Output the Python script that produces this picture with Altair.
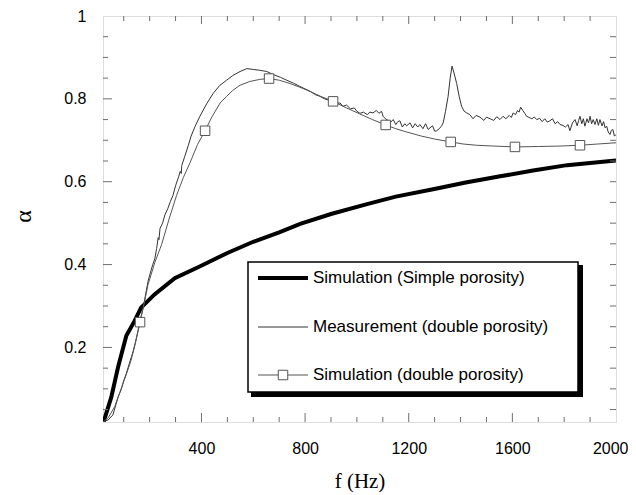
import altair as alt
import pandas as pd

# ---------------- data ----------------
meas_f = [20, 40, 58, 70, 78, 90, 100, 110, 120, 130, 137, 146, 155, 165, 175, 185, 194, 205, 212, 220,
          227, 233, 236, 240, 250, 259, 270, 280, 290, 300, 312, 318, 322, 324, 335, 349, 360, 375, 394, 420,
          445, 470, 497, 520, 549, 575, 600, 625, 652, 680, 705, 729, 755, 780, 800, 820, 840, 857, 875, 890,
          905, 920, 935, 946, 960, 975, 990, 1000, 1012, 1025, 1040, 1050, 1062, 1075, 1085, 1095, 1101, 1110,
          1120, 1128, 1140, 1150, 1158, 1166, 1175, 1185, 1192, 1205, 1215, 1225, 1235, 1243, 1255, 1265, 1275,
          1282, 1292, 1300, 1308, 1318, 1327, 1333, 1342, 1352, 1360, 1367, 1375, 1385, 1395, 1404, 1414, 1424,
          1436, 1448, 1460, 1475, 1490, 1500, 1514, 1528, 1540, 1552, 1564, 1575, 1588, 1596, 1603, 1612, 1620,
          1626, 1632, 1640, 1648, 1655, 1665, 1675, 1685, 1694, 1705, 1715, 1725, 1735, 1745, 1755, 1765, 1775,
          1784, 1795, 1805, 1815, 1822, 1832, 1842, 1850, 1856, 1861, 1868, 1874, 1880, 1888, 1894, 1900, 1906,
          1912, 1919, 1926, 1932, 1938, 1946, 1952, 1958, 1964, 1970, 1977, 1982, 1988, 1994, 2000]
meas_a = [0.02, 0.025, 0.037, 0.062, 0.08, 0.098, 0.12, 0.137, 0.158, 0.178, 0.192, 0.215, 0.24, 0.27, 0.295,
          0.33, 0.36, 0.385, 0.40, 0.414, 0.439, 0.465, 0.46, 0.487, 0.50, 0.52, 0.535, 0.552, 0.567, 0.59,
          0.612, 0.625, 0.62, 0.639, 0.66, 0.687, 0.71, 0.733, 0.758, 0.788, 0.813, 0.832, 0.845, 0.856, 0.866,
          0.873, 0.871, 0.869, 0.866, 0.858, 0.852, 0.845, 0.838, 0.83, 0.824, 0.818, 0.81, 0.806, 0.80, 0.797,
          0.793, 0.79, 0.79, 0.782, 0.785, 0.776, 0.778, 0.77, 0.765, 0.768, 0.762, 0.768, 0.766, 0.772, 0.765,
          0.77, 0.758, 0.752, 0.748, 0.742, 0.75, 0.738, 0.745, 0.747, 0.732, 0.74, 0.735, 0.742, 0.73, 0.74,
          0.732, 0.738, 0.728, 0.74, 0.726, 0.73, 0.735, 0.722, 0.723, 0.728, 0.735, 0.742, 0.77, 0.806, 0.85,
          0.879, 0.862, 0.837, 0.805, 0.782, 0.77, 0.766, 0.762, 0.752, 0.76, 0.756, 0.748, 0.756, 0.752, 0.748,
          0.757, 0.75, 0.758, 0.752, 0.76, 0.755, 0.766, 0.762, 0.772, 0.768, 0.78, 0.772, 0.765, 0.758, 0.755,
          0.752, 0.756, 0.75, 0.753, 0.745, 0.752, 0.744, 0.747, 0.752, 0.74, 0.745, 0.738, 0.736, 0.732, 0.738,
          0.723, 0.742, 0.75, 0.735, 0.748, 0.758, 0.74, 0.752, 0.734, 0.752, 0.742, 0.758, 0.74, 0.75, 0.738,
          0.752, 0.736, 0.75, 0.735, 0.745, 0.73, 0.734, 0.72, 0.714, 0.724, 0.726, 0.71, 0.714]

dbl_f = [20, 40, 65, 90, 110, 128, 145, 163, 180, 194, 220, 246, 275, 304, 330, 356, 385, 414, 440, 472, 497,
         520, 549, 587, 625, 661, 700, 742, 780, 819, 860, 908, 960, 1010, 1060, 1111, 1150, 1192, 1250, 1300,
         1362, 1410, 1462, 1530, 1610, 1700, 1780, 1861, 1930, 2000]
dbl_a = [0.02, 0.03, 0.057, 0.10, 0.135, 0.168, 0.21, 0.261, 0.31, 0.352, 0.405, 0.448, 0.51, 0.567, 0.61,
         0.646, 0.69, 0.723, 0.756, 0.79, 0.806, 0.82, 0.833, 0.842, 0.847, 0.849, 0.845, 0.837, 0.828, 0.818,
         0.806, 0.794, 0.778, 0.764, 0.75, 0.737, 0.728, 0.72, 0.71, 0.703, 0.696, 0.691, 0.688, 0.686, 0.684,
         0.685, 0.686, 0.688, 0.691, 0.694]
mark_f = [163, 414, 661, 908, 1111, 1362, 1610, 1861]
mark_a = [0.261, 0.723, 0.849, 0.794, 0.737, 0.696, 0.684, 0.688]

simp_f = [22, 52, 78, 110, 142, 167, 219, 297, 395, 500, 600, 700, 781, 900, 1039, 1150, 1294, 1420, 1553,
          1680, 1811, 1900, 2000]
simp_a = [0.02, 0.08, 0.152, 0.228, 0.264, 0.296, 0.328, 0.367, 0.396, 0.428, 0.455, 0.478, 0.498, 0.522,
          0.546, 0.564, 0.582, 0.598, 0.613, 0.627, 0.64, 0.645, 0.651]

legend_labels = ["Simulation (Simple porosity)", "Measurement (double porosity)", "Simulation (double porosity)"]

x_major = [400, 800, 1200, 1600]
x_minor = [100, 200, 300, 500, 600, 700, 900, 1000, 1100, 1300, 1400, 1500, 1700, 1800, 1900]
x_labels = [400, 800, 1200, 1600, 2000]
y_major = [0.2, 0.4, 0.6, 0.8]
y_minor = [0.05, 0.1, 0.15, 0.25, 0.3, 0.35, 0.45, 0.5, 0.55, 0.65, 0.7, 0.75, 0.85, 0.9, 0.95]
y_labels = [0.2, 0.4, 0.6, 0.8, 1]

# ---------------- chart ----------------
W, H = 513, 406
AX = "#6e6e6e"
SANS = "Liberation Sans"
SERIF = "Liberation Serif"

xs = alt.Scale(domain=[20, 2000], nice=False, zero=False)
ys = alt.Scale(domain=[0.02, 1], nice=False, zero=False)

meas_df = pd.DataFrame({"f": meas_f, "a": meas_a})
dbl_df = pd.DataFrame({"f": dbl_f, "a": dbl_a})
mark_df = pd.DataFrame({"f": mark_f, "a": mark_a})
simp_df = pd.DataFrame({"f": simp_f, "a": simp_a})

xaxis = alt.Axis(values=x_labels, format="d", title="f (Hz)", grid=False, domain=False, ticks=False,
                 tickSize=0, labelFont=SANS, labelFontSize=16, labelColor="black", labelPadding=18,
                 labelFlush=True, labelFlushOffset=12, labelOverlap=False,
                 titleFont=SERIF, titleFontSize=21, titleFontWeight="normal", titleColor="black",
                 titlePadding=14)
yaxis = alt.Axis(values=y_labels, format="~g", title="α", grid=False, domain=False, ticks=False, tickSize=0,
                 labelFont=SANS, labelFontSize=16, labelColor="black", labelPadding=17, labelOverlap=False,
                 titleFont=SERIF, titleFontSize=24, titleFontWeight="normal", titleColor="black",
                 titleAngle=270, titleX=-73, titleY=200, titleAlign="center", titleBaseline="alphabetic")


def X(field):
    return alt.X(f"{field}:Q", scale=xs, axis=xaxis, title="f (Hz)")


def Y(field):
    return alt.Y(f"{field}:Q", scale=ys, axis=yaxis, title="α")


simple = alt.Chart(simp_df).mark_line(color="black", strokeWidth=4, clip=True).encode(x=X("f"), y=Y("a"))
meas = alt.Chart(meas_df).mark_line(color="#333333", strokeWidth=1, clip=True).encode(x=X("f"), y=Y("a"))
dbl = alt.Chart(dbl_df).mark_line(color="#555555", strokeWidth=1, clip=True).encode(x=X("f"), y=Y("a"))
pts = alt.Chart(mark_df).mark_point(shape="square", size=90, filled=True, fill="white", stroke="#555555",
                                    strokeWidth=1, opacity=1).encode(x=X("f"), y=Y("a"))


def xticks(vals, y0, y1):
    return alt.Chart(pd.DataFrame({"f": vals})).mark_rule(color=AX, strokeWidth=1).encode(
        x=X("f"), y=alt.value(y0), y2=alt.value(y1))


def yticks(vals, x0, x1):
    return alt.Chart(pd.DataFrame({"a": vals})).mark_rule(color=AX, strokeWidth=1).encode(
        y=Y("a"), x=alt.value(x0), x2=alt.value(x1))


ticks = [
    xticks(x_major, H, H - 9), xticks(x_minor, H, H - 5),
    xticks(x_major, 0, 8), xticks(x_minor, 0, 5),
    yticks(y_major, 0, 9), yticks(y_minor, 0, 5),
    yticks(y_major, W, W - 6), yticks(y_minor, W, W - 6),
]

# legend box
lx0, lx1, ly0, ly1 = 145, 475, 246, 376
rows = [262, 311, 359]
shadow = alt.Chart(pd.DataFrame({"k": [0]})).mark_rect(color="black").encode(
    x=alt.value(lx0 + 3), x2=alt.value(lx1 + 5), y=alt.value(ly0 + 3), y2=alt.value(ly1 + 5))
box = alt.Chart(pd.DataFrame({"k": [0]})).mark_rect(fill="white", stroke="black", strokeWidth=1.5).encode(
    x=alt.value(lx0), x2=alt.value(lx1), y=alt.value(ly0), y2=alt.value(ly1))
leg = [shadow, box]
styles = [("black", 4), ("#333333", 1), ("#555555", 1)]
for i, (lab, (c, sw)) in enumerate(zip(legend_labels, styles)):
    d = pd.DataFrame({"t": [lab]})
    leg.append(alt.Chart(d).mark_rule(color=c, strokeWidth=sw).encode(
        x=alt.value(155), x2=alt.value(205), y=alt.value(rows[i])))
    leg.append(alt.Chart(d).mark_text(align="left", baseline="middle", font=SANS, fontSize=17,
                                      color="black").encode(
        x=alt.value(210), y=alt.value(rows[i]), text="t:N"))
leg.append(alt.Chart(pd.DataFrame({"t": [legend_labels[2]]})).mark_point(
    shape="square", size=90, filled=True, fill="white", stroke="#555555", strokeWidth=1, opacity=1).encode(
    x=alt.value(180), y=alt.value(rows[2])))

chart = alt.layer(simple, meas, dbl, pts, *ticks, *leg).properties(
    width=W, height=H,
    autosize=alt.AutoSizeParams(type="none"),
    padding={"left": 95, "top": 8, "right": 12, "bottom": 70},
).configure_view(stroke=AX, strokeWidth=1).configure(background="white")

chart.save("out.html", embed_options={"renderer": "svg", "actions": False})
